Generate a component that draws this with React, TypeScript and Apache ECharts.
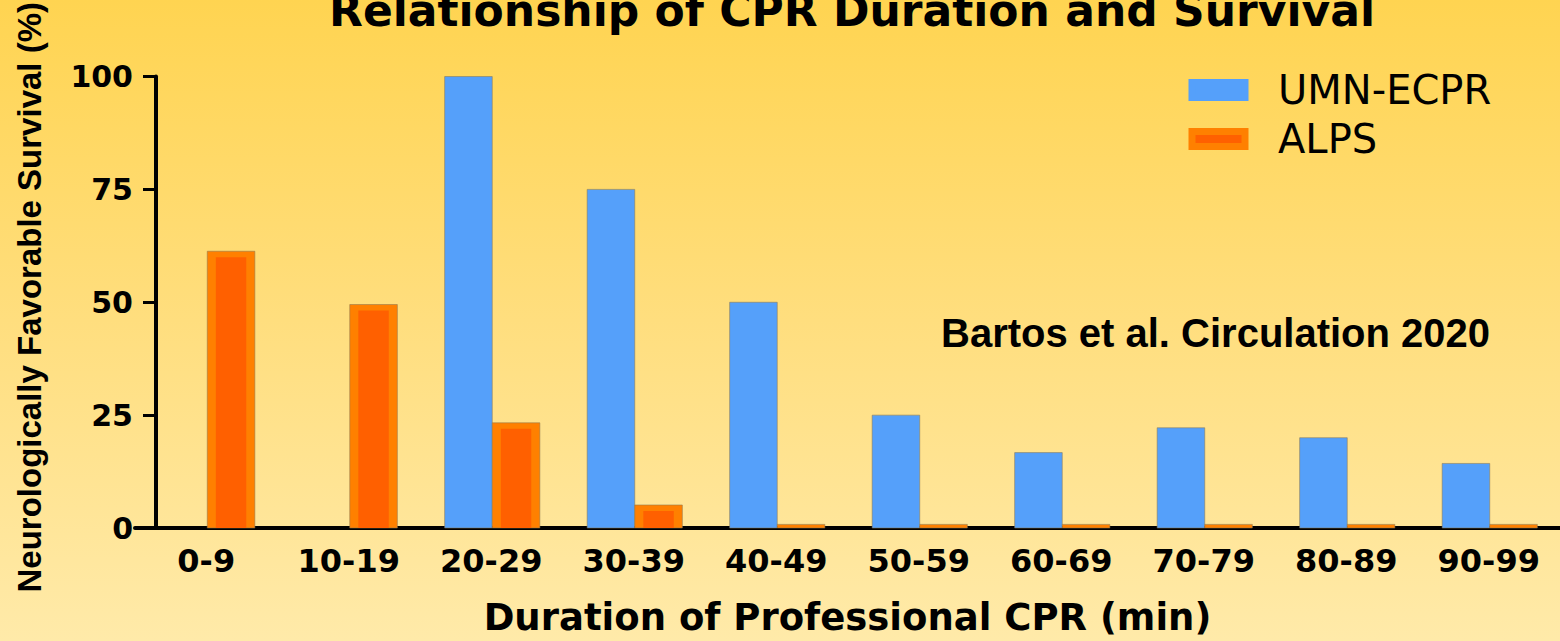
import React, { useEffect, useRef } from "react";
import * as echarts from "echarts";

const categories = ["0-9", "10-19", "20-29", "30-39", "40-49", "50-59", "60-69", "70-79", "80-89", "90-99"];
const umnEcpr: (number | null)[] = [null, null, 100, 75, 50, 25, 16.7, 22.2, 20, 14.3];
const alps: number[] = [61.3, 49.5, 23.3, 5.1, 0.8, 0.8, 0.8, 0.8, 0.8, 0.8];
const yMin = 0;
const yMax = 100;
const yInterval = 25;

const BLUE = "#55A0FA";
const ORANGE_OUT = "#FF8000";
const ORANGE_IN = "#FF6000";
const OUTLINE = "rgba(140,120,80,0.55)";

function toData(values: (number | null)[]) {
  const out: [number, number][] = [];
  values.forEach((v, i) => {
    if (v !== null && v !== undefined) out.push([i, v]);
  });
  return out;
}

function makeRender(side: number, twoTone: boolean) {
  return (params: any, api: any) => {
    const idx = api.value(0);
    const v = api.value(1);
    const top = api.coord([idx, v]);
    const base = api.coord([idx, 0]);
    const band = api.size([1, 0])[0];
    const w = band * 0.334;
    const x0 = side < 0 ? top[0] - w + 1 : top[0] + 1;
    const h = base[1] - top[1];
    const children: any[] = [
      {
        type: "rect",
        shape: { x: x0, y: top[1], width: w, height: h },
        style: { fill: twoTone ? ORANGE_OUT : BLUE, stroke: OUTLINE, lineWidth: 1 },
      },
    ];
    if (twoTone && h > 8) {
      const inset = w * 0.18;
      children.push({
        type: "rect",
        shape: { x: x0 + inset, y: top[1] + 6, width: w - 2 * inset, height: h - 6 },
        style: { fill: ORANGE_IN },
      });
    }
    return { type: "group", children };
  };
}

export default function App() {
  const ref = useRef<HTMLDivElement>(null);
  useEffect(() => {
    document.body.style.margin = "0";
    const chart = echarts.init(ref.current!, undefined, { renderer: "svg" });
    chart.setOption({
      animation: false,
      backgroundColor: {
        type: "linear",
        x: 0,
        y: 0,
        x2: 0,
        y2: 1,
        colorStops: [
          { offset: 0, color: "#FFD451" },
          { offset: 0.5, color: "#FFDE7E" },
          { offset: 1, color: "#FFEAA9" },
        ],
      },
      title: {
        text: "Relationship of CPR Duration and Survival",
        left: 852,
        top: -12,
        padding: 0,
        textAlign: "center",
        textStyle: { fontFamily: "DejaVu Sans", fontWeight: "bold", fontSize: 44, color: "#000" },
      },
      legend: {
        orient: "vertical",
        left: 1188.5,
        top: 70,
        padding: 0,
        itemGap: 9,
        itemWidth: 53,
        itemHeight: 15,
        icon: "rect",
        textStyle: { fontFamily: "DejaVu Sans", fontSize: 40, color: "#000", padding: [0, 0, 0, 28] },
        data: [
          { name: "UMN-ECPR", itemStyle: { color: BLUE, borderColor: BLUE, borderWidth: 7 } },
          { name: "ALPS", itemStyle: { color: ORANGE_IN, borderColor: ORANGE_OUT, borderWidth: 7 } },
        ],
      },
      grid: { left: 135, top: 76, width: 1436, height: 454 },
      xAxis: {
        type: "category",
        data: categories,
        name: "Duration of Professional CPR (min)",
        nameLocation: "middle",
        nameGap: 71,
        nameTextStyle: { fontFamily: "DejaVu Sans", fontWeight: "bold", fontSize: 37, color: "#000" },
        axisLine: { lineStyle: { color: "#000", width: 4 } },
        axisTick: { alignWithLabel: true, length: 11, lineStyle: { color: "#000", width: 3 } },
        axisLabel: { fontFamily: "DejaVu Sans", fontWeight: "bold", fontSize: 32, color: "#000", margin: 17 },
      },
      yAxis: {
        type: "value",
        min: yMin,
        max: yMax,
        interval: yInterval,
        offset: -21,
        name: "Neurologically Favorable Survival (%)",
        nameLocation: "middle",
        nameGap: 110,
        nameTextStyle: {
          fontFamily: "Liberation Sans",
          fontWeight: "bold",
          fontSize: 33,
          color: "#000",
          padding: [0, 0, 0, 10],
        },
        axisLine: { show: true, lineStyle: { color: "#000", width: 4 } },
        axisTick: { show: true, length: 13, lineStyle: { color: "#000", width: 3 } },
        axisLabel: { fontFamily: "DejaVu Sans", fontWeight: "bold", fontSize: 30, color: "#000", margin: 23 },
        splitLine: { show: false },
      },
      graphic: [
        {
          type: "text",
          x: 941,
          y: 333,
          style: {
            text: "Bartos et al. Circulation 2020",
            font: 'bold 40px "Liberation Sans"',
            fill: "#000",
            textVerticalAlign: "middle",
          },
        },
      ],
      series: [
        {
          name: "UMN-ECPR",
          type: "custom",
          itemStyle: { color: BLUE },
          encode: { x: 0, y: 1 },
          data: toData(umnEcpr),
          renderItem: makeRender(-1, false),
        },
        {
          name: "ALPS",
          type: "custom",
          itemStyle: { color: ORANGE_IN },
          encode: { x: 0, y: 1 },
          data: toData(alps),
          renderItem: makeRender(1, true),
        },
      ],
    });
    return () => chart.dispose();
  }, []);
  return <div ref={ref} style={{ width: 1560, height: 641 }} />;
}
